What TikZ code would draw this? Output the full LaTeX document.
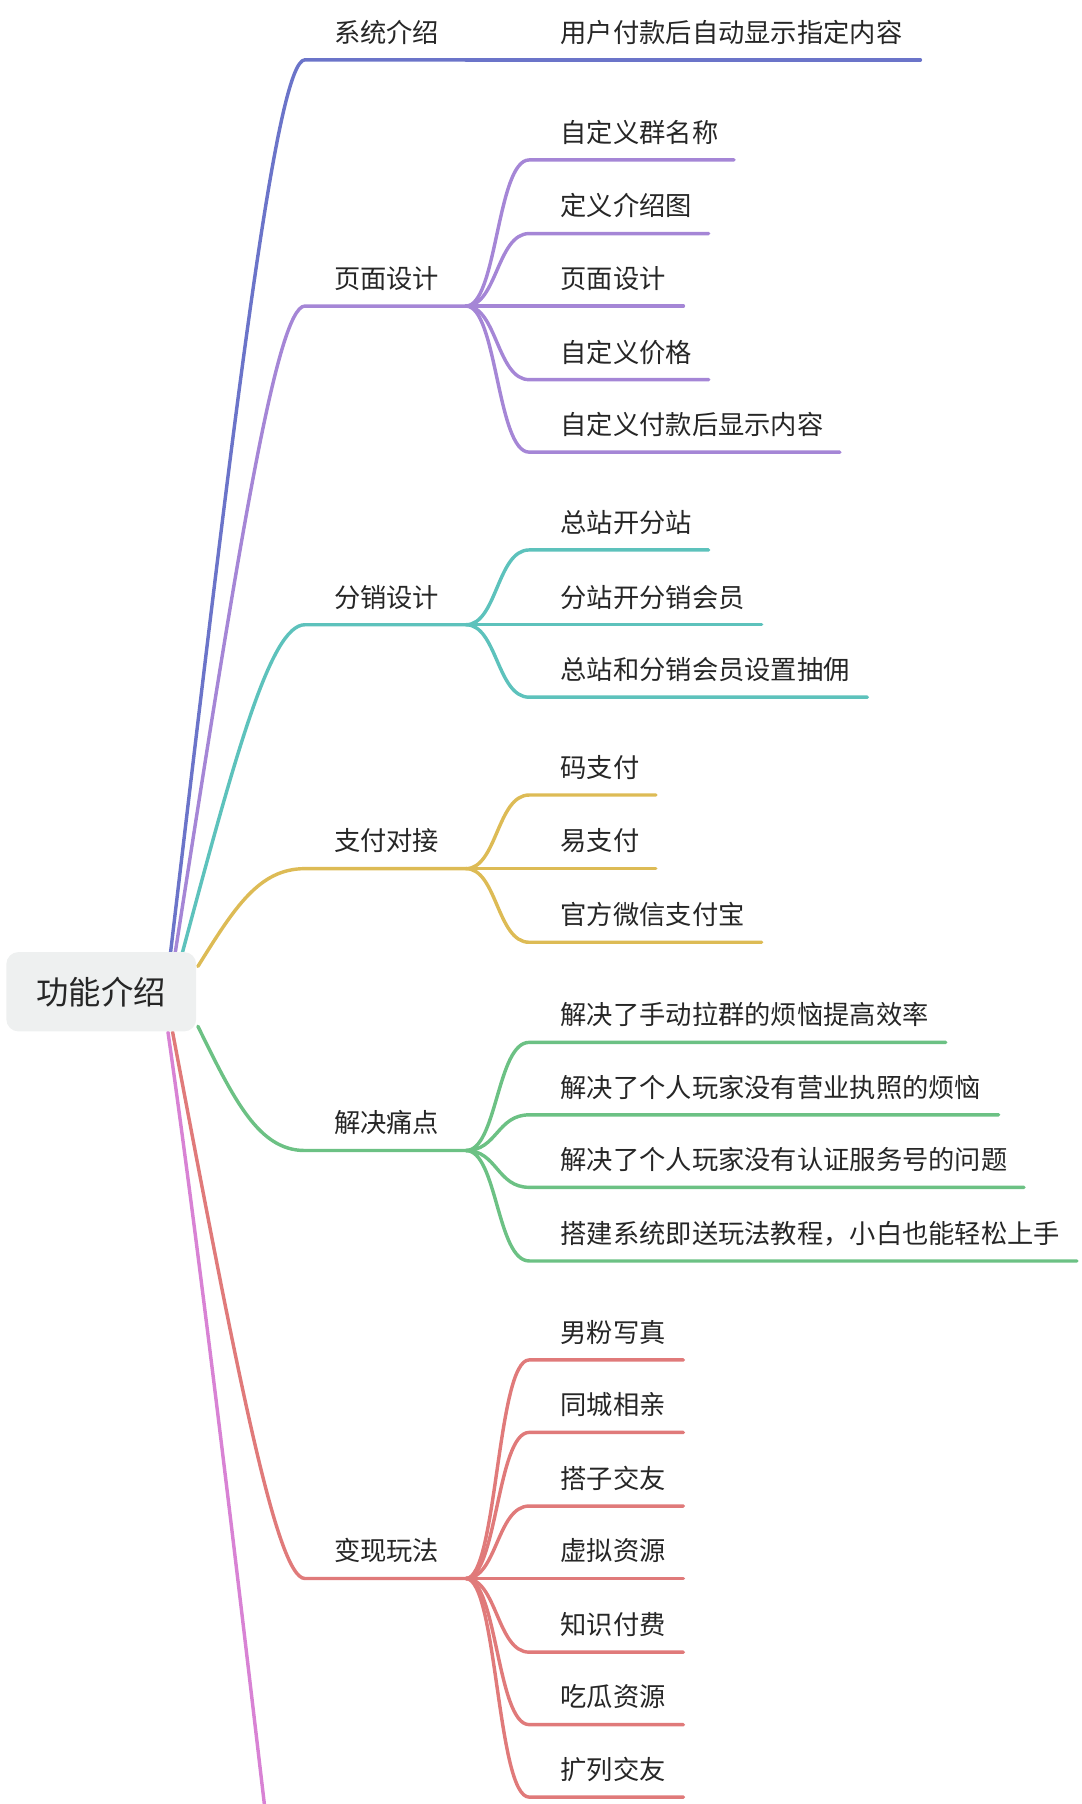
\documentclass[tikz,border=0pt]{standalone}
\usepackage{fontspec}
\setmainfont{Noto Sans CJK SC}
\usetikzlibrary{calc}
\definecolor{cA}{HTML}{6B74C9}\definecolor{cB}{HTML}{A586D6}\definecolor{cC}{HTML}{5DC2BC}
\definecolor{cD}{HTML}{DDBB55}\definecolor{cE}{HTML}{6CC184}\definecolor{cF}{HTML}{E07A7A}
\definecolor{cG}{HTML}{D882D4}\definecolor{rootbg}{HTML}{EEF0F0}
\tikzset{lab/.style={anchor=west,inner sep=0,font=\fontsize{13}{15}\selectfont,text=black!85},
 ln/.style={line width=1.7pt,line cap=round}}
\newcommand{\kid}[5]{%
 \coordinate (k#3s) at (460,#3);\coordinate (k#3e) at (#4,#3);
 \draw[ln,#1] (405,#2) .. controls (432,#2) and (432,#3) .. (k#3s) -- (k#3e);
 \node[lab] (t#3) at (487,#3-24) {#5};}
\newcommand{\lone}[5]{% color, start x, start y, y, bend x, text
 \coordinate (b#4) at (265,#4);\coordinate (c#4) at (405,#4);\coordinate (s#4) at (#2,#3);
 \draw[ln,#1] (s#4) .. controls ($(s#4)!0.6!(#5,#4)$) and (#5,#4) .. (b#4) -- (c#4);}
\begin{document}
\begin{tikzpicture}[x=0.02cm,y=-0.02cm]
\useasboundingbox (0,0) rectangle (940,1568);
\lone{cA}{148}{830}{52}{240}\node[lab] (l52) at (290,28) {系统介绍};
\coordinate (x52) at (800,52);\draw[ln,cA] (c52)--(x52);
\node[lab] (t52) at (487,28) {用户付款后自动显示指定内容};
\lone{cB}{152}{830}{266}{240}\node[lab] (l266) at (290,242) {页面设计};
\kid{cB}{266}{139}{638}{自定义群名称}
\kid{cB}{266}{203}{616}{定义介绍图}
\kid{cB}{266}{266}{594}{页面设计}
\kid{cB}{266}{330}{616}{自定义价格}
\kid{cB}{266}{393}{730}{自定义付款后显示内容}
\lone{cC}{158}{830}{543}{235}\node[lab] (l543) at (290,519) {分销设计};
\kid{cC}{543}{478}{616}{总站开分站}
\kid{cC}{543}{543}{662}{分站开分销会员}
\kid{cC}{543}{606}{754}{总站和分销会员设置抽佣}
\lone{cD}{172}{840}{755}{225}\node[lab] (l755) at (290,731) {支付对接};
\kid{cD}{755}{691}{570}{码支付}
\kid{cD}{755}{755}{570}{易支付}
\kid{cD}{755}{819}{662}{官方微信支付宝}
\lone{cE}{172}{892}{1000}{225}\node[lab] (l1000) at (290,976) {解决痛点};
\kid{cE}{1000}{906}{822}{解决了手动拉群的烦恼提高效率}
\kid{cE}{1000}{969}{868}{解决了个人玩家没有营业执照的烦恼}
\kid{cE}{1000}{1032}{890}{解决了个人玩家没有认证服务号的问题}
\kid{cE}{1000}{1096}{936}{搭建系统即送玩法教程，小白也能轻松上手}
\lone{cF}{150}{897}{1372}{240}\node[lab] (l1372) at (290,1348) {变现玩法};
\kid{cF}{1372}{1182}{594}{男粉写真}
\kid{cF}{1372}{1245}{594}{同城相亲}
\kid{cF}{1372}{1309}{594}{搭子交友}
\kid{cF}{1372}{1372}{594}{虚拟资源}
\kid{cF}{1372}{1436}{594}{知识付费}
\kid{cF}{1372}{1499}{594}{吃瓜资源}
\kid{cF}{1372}{1562}{594}{扩列交友}
\coordinate (pk) at (230,1570);\coordinate (ps) at (146,897);
\draw[ln,cG] (ps) .. controls (175,1100) and (210,1400) .. (pk);
\node[fill=rootbg,rounded corners=6pt,minimum width=165*0.02cm,minimum height=69*0.02cm,
 font=\fontsize{16}{18}\selectfont,text=black!85] (root) at (88,862) {功能介绍};
\end{tikzpicture}
\end{document}
